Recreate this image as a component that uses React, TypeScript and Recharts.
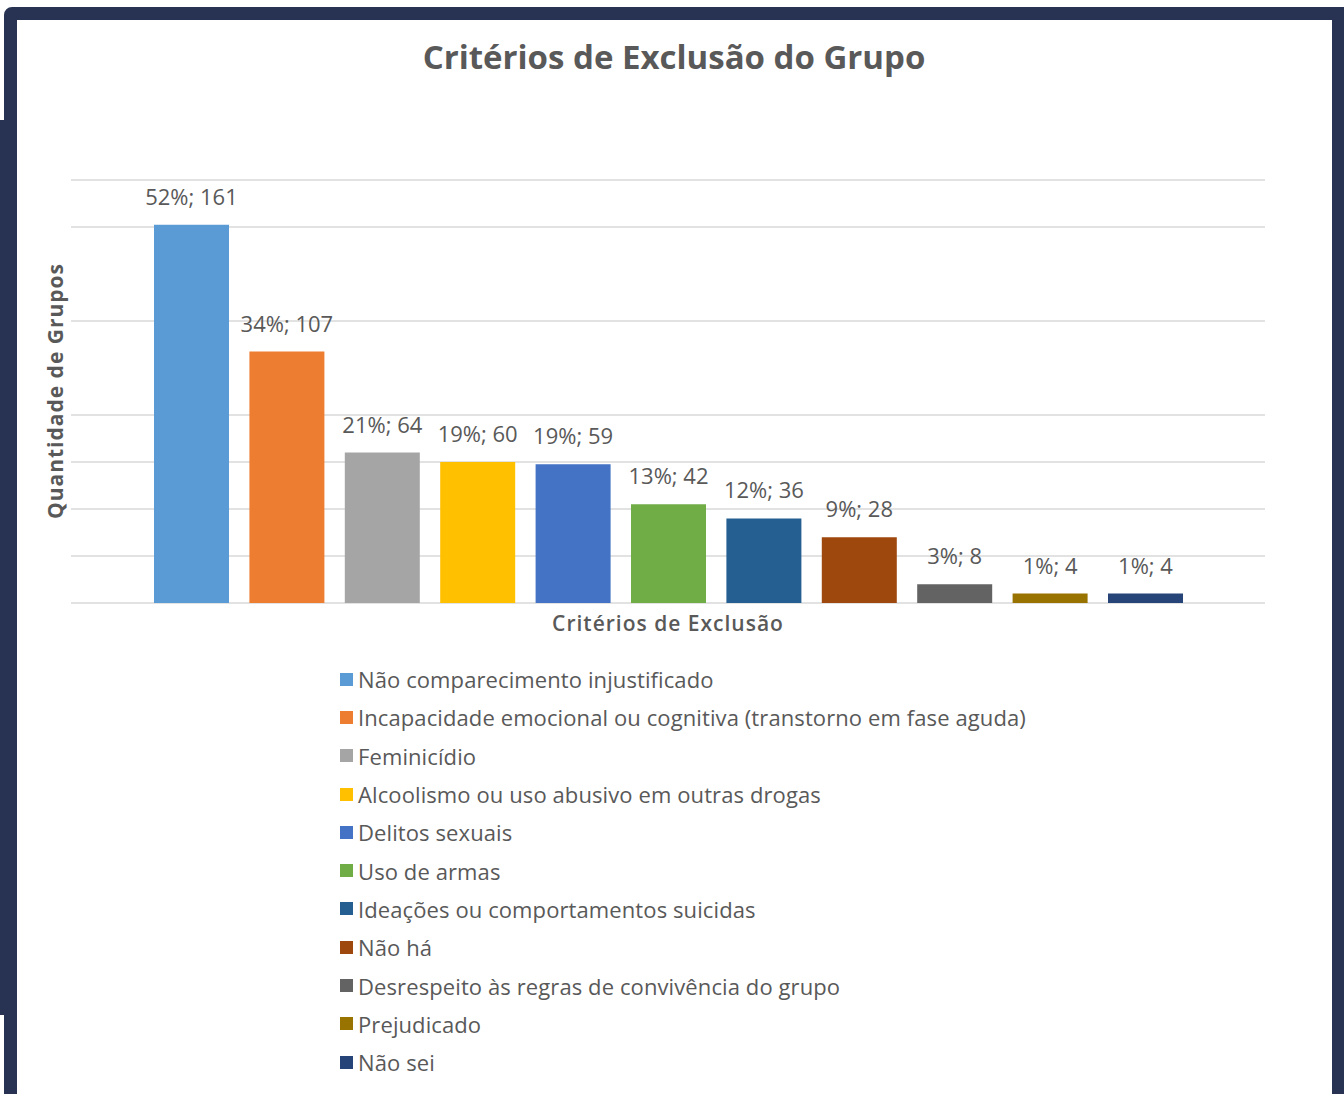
import { BarChart, Bar, XAxis, YAxis, CartesianGrid, Legend } from "recharts";

const criteria = [
  "Não comparecimento injustificado",
  "Incapacidade emocional ou cognitiva (transtorno em fase aguda)",
  "Feminicídio",
  "Alcoolismo ou uso abusivo em outras drogas",
  "Delitos sexuais",
  "Uso de armas",
  "Ideações ou comportamentos suicidas",
  "Não há",
  "Desrespeito às regras de convivência do grupo",
  "Prejudicado",
  "Não sei",
];
const counts = [161, 107, 64, 60, 59, 42, 36, 28, 8, 4, 4];
const percents = [52, 34, 21, 19, 19, 13, 12, 9, 3, 1, 1];
const colors = [
  "#5B9BD5", "#ED7D31", "#A5A5A5", "#FFC000", "#4472C4", "#70AD47",
  "#255E91", "#9E480E", "#636363", "#997300", "#264478",
];
const yTicks = [0, 20, 40, 60, 80, 120, 160, 180];

const row: Record<string, string | number> = { name: "Critérios de Exclusão" };
counts.forEach((c, i) => {
  row[`s${i}`] = c;
});
const data = [row];

const FONT = "'Open Sans', 'Noto Sans', sans-serif";
const GRAY = "#595959";

// keep the legend in series order (recharts sorts by name otherwise)
function LegendList({ payload }: any) {
  const items = [...(payload || [])].sort(
    (a: any, b: any) => criteria.indexOf(a.value) - criteria.indexOf(b.value)
  );
  return (
    <div style={{ fontFamily: FONT }}>
      {items.map((p: any) => (
        <div key={p.value} style={{ display: "flex", alignItems: "center", height: 38.3 }}>
          <span style={{ width: 13, height: 13, background: p.color, marginRight: 5, flexShrink: 0 }} />
          <span style={{ fontSize: 22, color: GRAY, whiteSpace: "nowrap", letterSpacing: 0.1 }}>{p.value}</span>
        </div>
      ))}
    </div>
  );
}

export default function App() {
  return (
    <div style={{ position: "absolute", left: 0, top: 0, width: 1344, height: 1094, overflow: "hidden", background: "#fff", fontFamily: FONT }}>
      <div style={{ position: "absolute", left: 0, top: 120, width: 6, height: 895, background: "#283353" }} />
      <div
        style={{
          position: "absolute", left: 4, top: 7, width: 1340, height: 1100,
          border: "13px solid #283353", borderRight: "12px solid #283353",
          borderTopLeftRadius: 8, boxSizing: "border-box", background: "#fff",
        }}
      />
      <div style={{ position: "absolute", left: 0, top: 34, width: 1348, textAlign: "center", fontSize: 33, fontWeight: 700, color: GRAY }}>
        Critérios de Exclusão do Grupo
      </div>
      <div
        style={{
          position: "absolute", left: 55, top: 391, transform: "translate(-50%, -50%) rotate(-90deg)",
          whiteSpace: "nowrap", fontSize: 21, fontWeight: 700, color: GRAY, letterSpacing: 1,
        }}
      >
        Quantidade de Grupos
      </div>
      <div style={{ position: "absolute", left: 468, top: 609, width: 400, textAlign: "center", fontSize: 21, fontWeight: 600, color: GRAY, letterSpacing: 1 }}>
        Critérios de Exclusão
      </div>
      <div style={{ position: "absolute", left: 0, top: 0 }}>
        <BarChart
          width={1344}
          height={1094}
          data={data}
          margin={{ top: 180, right: 79, bottom: 491, left: 71 }}
          barSize={75}
          barGap={20.4}
        >
          <CartesianGrid vertical={false} stroke="#d9d9d9" strokeWidth={1.5} />
          <XAxis dataKey="name" hide />
          <YAxis hide domain={[0, 180]} ticks={yTicks} />
          <Legend
            layout="vertical"
            align="center"
            verticalAlign="middle"
            content={<LegendList />}
            wrapperStyle={{ left: 340, top: 660, width: 800, height: 430 }}
          />
          {criteria.map((name, i) => (
            <Bar
              key={name}
              dataKey={`s${i}`}
              name={name}
              fill={colors[i]}
              isAnimationActive={false}
              label={{
                position: "top",
                offset: 20,
                fill: GRAY,
                fontSize: 22,
                fontFamily: FONT,
                formatter: () => `${percents[i]}%; ${counts[i]}`,
              }}
            />
          ))}
        </BarChart>
      </div>
    </div>
  );
}
